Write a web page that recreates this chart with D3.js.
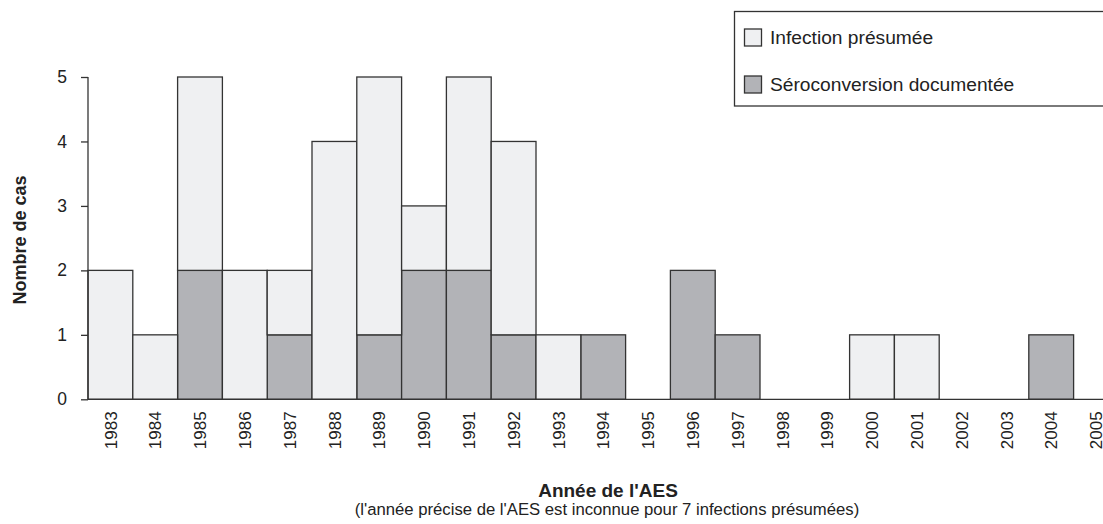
<!DOCTYPE html>
<html><head><meta charset="utf-8">
<script src="https://cdn.jsdelivr.net/npm/d3@7"></script>
<style>body{margin:0;background:#fff}svg{display:block}text{font-family:"Liberation Sans",Arial,sans-serif;fill:#222}</style>
</head><body>
<svg id="c" width="1103" height="524"></svg>
<script>
const years = ["1983","1984","1985","1986","1987","1988","1989","1990","1991","1992","1993","1994","1995","1996","1997","1998","1999","2000","2001","2002","2003","2004","2005"];
const seroconversion = [0,0,2,0,1,0,1,2,2,1,0,1,0,2,1,0,0,0,0,0,0,1,0];
const presumee =      [2,1,3,2,1,4,4,1,3,3,1,0,0,0,0,0,0,1,1,0,0,0,0];
const yTicks = [0,1,2,3,4,5];
const seriesNames = ["Infection présumée","Séroconversion documentée"];
const colors = {"Infection présumée":"#eff0f2","Séroconversion documentée":"#b2b3b7"};

const svg = d3.select("#c");
const x = d3.scaleBand().domain(years).range([88, 88 + 23*44.8]).padding(0);
const y = d3.scaleLinear().domain([0,5]).range([399.3, 77]);
const stroke = "#333";

const data = years.map((yr,i)=>({year:yr, sero:seroconversion[i], pres:presumee[i]}));
const stack = d3.stack().keys(["sero","pres"])(data);
const keyName = {sero:"Séroconversion documentée", pres:"Infection présumée"};

stack.forEach(layer=>{
  svg.append("g").selectAll("rect").data(layer.filter(d=>d[1]>d[0])).join("rect")
    .attr("x", d=>x(d.data.year)).attr("width", x.bandwidth())
    .attr("y", d=>y(d[1])).attr("height", d=>y(d[0])-y(d[1]))
    .attr("fill", colors[keyName[layer.key]])
    .attr("stroke", stroke).attr("stroke-width", 1.3);
});

// y axis
const yAxis = svg.append("g").attr("transform","translate(88,0)")
  .call(d3.axisLeft(y).tickValues(yTicks).tickSize(7).tickPadding(14).tickFormat(d3.format("d")));
yAxis.select(".domain").attr("stroke", stroke).attr("stroke-width",1.3).attr("d","M0,77V399.3");
yAxis.selectAll(".tick line").attr("stroke", stroke).attr("stroke-width",1.3);
yAxis.selectAll(".tick text").attr("font-size","17.5px").attr("fill","#222").attr("font-family","Liberation Sans, Arial, sans-serif");

// x axis
const xAxis = svg.append("g").attr("transform","translate(0,399.3)")
  .call(d3.axisBottom(x).tickSize(0).tickPadding(0));
xAxis.select(".domain").attr("stroke", stroke).attr("stroke-width",1.3).attr("d","M88,0H1120");
xAxis.selectAll(".tick text")
  .attr("font-size","17px").attr("fill","#222").attr("font-family","Liberation Sans, Arial, sans-serif")
  .attr("transform","rotate(-90)").attr("text-anchor","end")
  .attr("x",-12).attr("y",0).attr("dy","0.36em");

// axis titles
svg.append("text").attr("transform","translate(26,240) rotate(-90)")
  .attr("text-anchor","middle").attr("font-weight","bold").attr("font-size","18px")
  .text("Nombre de cas");
svg.append("text").attr("x",608).attr("y",497).attr("text-anchor","middle")
  .attr("font-weight","bold").attr("font-size","19px").text("Année de l'AES");
svg.append("text").attr("x",607).attr("y",515).attr("text-anchor","middle")
  .attr("font-size","16.7px").text("(l'année précise de l'AES est inconnue pour 7 infections présumées)");

// legend
const lg = svg.append("g");
lg.append("rect").attr("x",734.5).attr("y",11.5).attr("width",400).attr("height",94.5)
  .attr("fill","#fff").attr("stroke",stroke).attr("stroke-width",1.3);
seriesNames.forEach((n,i)=>{
  const yy = 29 + i*47;
  lg.append("rect").attr("x",744.5).attr("y",yy).attr("width",17).attr("height",17)
    .attr("fill",colors[n]).attr("stroke",stroke).attr("stroke-width",1.3);
  lg.append("text").attr("x",770).attr("y",yy+15).attr("font-size","19.2px").text(n);
});
</script>
</body></html>
